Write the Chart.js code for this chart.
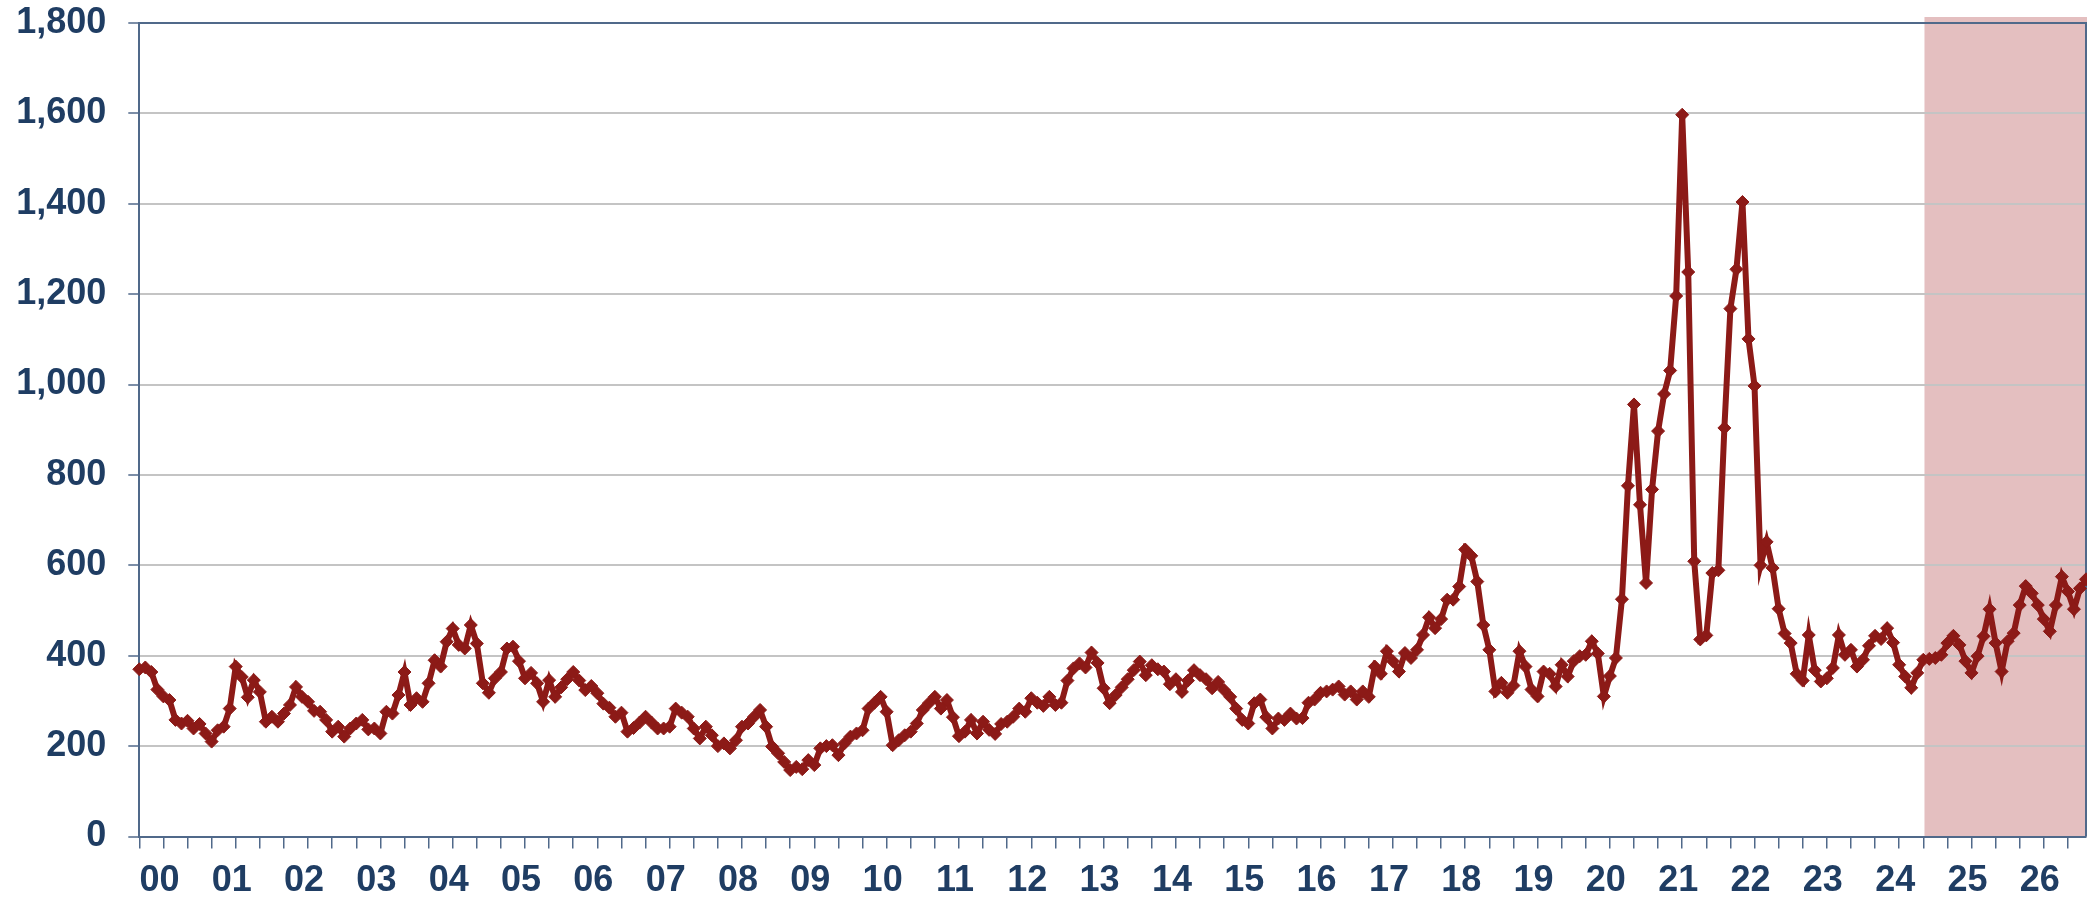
<!DOCTYPE html>
<html><head><meta charset="utf-8">
<script src="https://cdn.jsdelivr.net/npm/chart.js@4.4.1/dist/chart.umd.min.js"></script>
<style>html,body{margin:0;padding:0;background:#fff}#wrap{width:2087px;height:898px;position:relative}</style>
</head><body><div id="wrap"><canvas id="c"></canvas></div>
<script>
// Year labels for the category (month-index) axis
const yearLabels = ['00','01','02','03','04','05','06','07','08','09','10','11','12','13','14','15','16','17','18','19','20','21','22','23','24','25','26'];

// Monthly values, Jan 2000 - Dec 2009
const values2000s = [
  370,374,364,325,310,302,258,250,256,239,249,228,
  210,235,243,283,376,353,308,346,320,254,265,254,
  272,291,331,309,298,278,276,258,232,243,221,239,
  250,258,237,239,228,276,272,313,364,291,306,298,
  339,390,376,431,460,424,416,468,427,339,318,350,
  364,416,420,388,350,362,339,298,346,309,330,348,
  364,345,324,333,317,294,285,265,274,232,240,252,
  265,252,239,239,243,283,274,265,239,217,243,224,
  200,206,195,213,243,250,265,280,243,199,184,165,
  147,154,149,169,158,195,200,202,180,206,221,228
];
// Monthly values, Jan 2010 - Dec 2019
const values2010s = [
  235,283,296,309,276,202,213,224,232,250,280,295,
  309,283,302,264,222,232,258,228,254,236,227,249,
  254,265,283,276,306,296,289,309,291,296,345,372,
  383,374,407,384,328,295,313,330,348,368,387,357,
  379,370,365,337,348,320,345,368,357,348,328,342,
  324,309,283,258,250,295,303,264,239,261,258,272,
  261,262,296,303,318,321,325,332,314,321,303,321,
  309,376,360,410,388,365,406,395,413,446,485,461,
  481,524,524,553,635,621,564,468,413,321,340,318,
  334,410,376,325,310,365,360,332,380,354,388,399
];
// Monthly values, Jan 2020 - Dec 2026
const values2020s = [
  402,432,405,310,355,395,525,776,956,734,561,768,
  897,979,1031,1196,1597,1249,609,436,445,583,589,904,
  1168,1255,1404,1101,997,600,652,594,504,449,428,360,
  345,446,368,343,350,373,446,402,413,376,391,422,
  444,437,461,429,380,354,329,362,391,393,395,402,
  428,444,424,388,362,399,443,503,428,365,432,450,
  512,554,538,512,481,454,512,575,542,503,549,569
];
// Start of the shaded (forecast) period, in month index units
const forecastStart = 296.2;

const allValues = values2000s.concat(values2010s, values2020s);
const points = allValues.map((v, i) => ({x: i, y: v}));
const lastIndex = allValues.length - 1;

const AXIS = '#50698A', TEXT = '#1F3D63', GRID = '#C4C4C4', LINE = '#8C1A17', SHADE = '#E4BFC0';
const FONT = {family: "'Liberation Sans', Arial, sans-serif", size: 36, weight: 'bold'};

function noScalePadding(s) { s.paddingTop = 0; s.paddingBottom = 0; s.paddingLeft = 0; s.paddingRight = 0; }

const shadePlugin = {
  id: 'shade',
  beforeDraw(chart) {
    const {ctx, chartArea, scales: {x}} = chart;
    const x0 = x.getPixelForValue(forecastStart);
    const top = chartArea.top - 6;
    ctx.save();
    ctx.fillStyle = SHADE;
    ctx.fillRect(x0, top, chart.width - x0, chartArea.bottom - top);
    ctx.restore();
  }
};
const framePlugin = {
  id: 'frame',
  beforeDatasetsDraw(chart) {
    const {ctx, chartArea: a} = chart;
    ctx.save();
    ctx.strokeStyle = AXIS;
    ctx.lineWidth = 2;
    ctx.beginPath();
    ctx.moveTo(a.left, a.top);
    ctx.lineTo(a.right, a.top);
    ctx.lineTo(a.right, a.bottom);
    ctx.stroke();
    ctx.restore();
  }
};

new Chart(document.getElementById('c'), {
  type: 'line',
  data: {datasets: [{
    data: points,
    borderColor: LINE, backgroundColor: LINE, borderWidth: 6,
    pointStyle: 'rectRot', pointRadius: 6.5, pointBorderWidth: 1,
    pointBackgroundColor: LINE, pointBorderColor: LINE,
    tension: 0, clip: false
  }]},
  plugins: [shadePlugin, framePlugin],
  options: {
    responsive: true, maintainAspectRatio: false, animation: false, devicePixelRatio: 1,
    layout: {autoPadding: false, padding: {top: 23, right: 1, bottom: 0, left: 0}},
    plugins: {legend: {display: false}, tooltip: {enabled: false}},
    scales: {
      x: {
        type: 'linear', min: 0, max: lastIndex,
        afterBuildTicks(s) { const t = []; for (let v = 0; v <= lastIndex; v += 4) t.push({value: v}); s.ticks = t; },
        afterFit(s) { s.height = 61.5; noScalePadding(s); },
        grid: {drawOnChartArea: false, drawTicks: true, tickLength: 12, color: AXIS, lineWidth: 1.5},
        border: {color: AXIS, width: 2},
        ticks: {
          autoSkip: false, maxRotation: 0, minRotation: 0, labelOffset: -4, padding: 11,
          color: TEXT, font: FONT,
          callback(v) { return (v % 12 === 4) ? yearLabels[(v - 4) / 12] : ''; }
        }
      },
      y: {
        min: 0, max: 1800,
        afterFit(s) { s.width = 139.3; noScalePadding(s); },
        ticks: {stepSize: 200, padding: 22, color: TEXT, font: FONT, callback: v => v.toLocaleString('en-US')},
        grid: {color: GRID, lineWidth: 2, tickColor: AXIS, tickLength: 11, tickWidth: 1.5},
        border: {color: AXIS, width: 2}
      }
    }
  }
});
</script>
</body></html>
